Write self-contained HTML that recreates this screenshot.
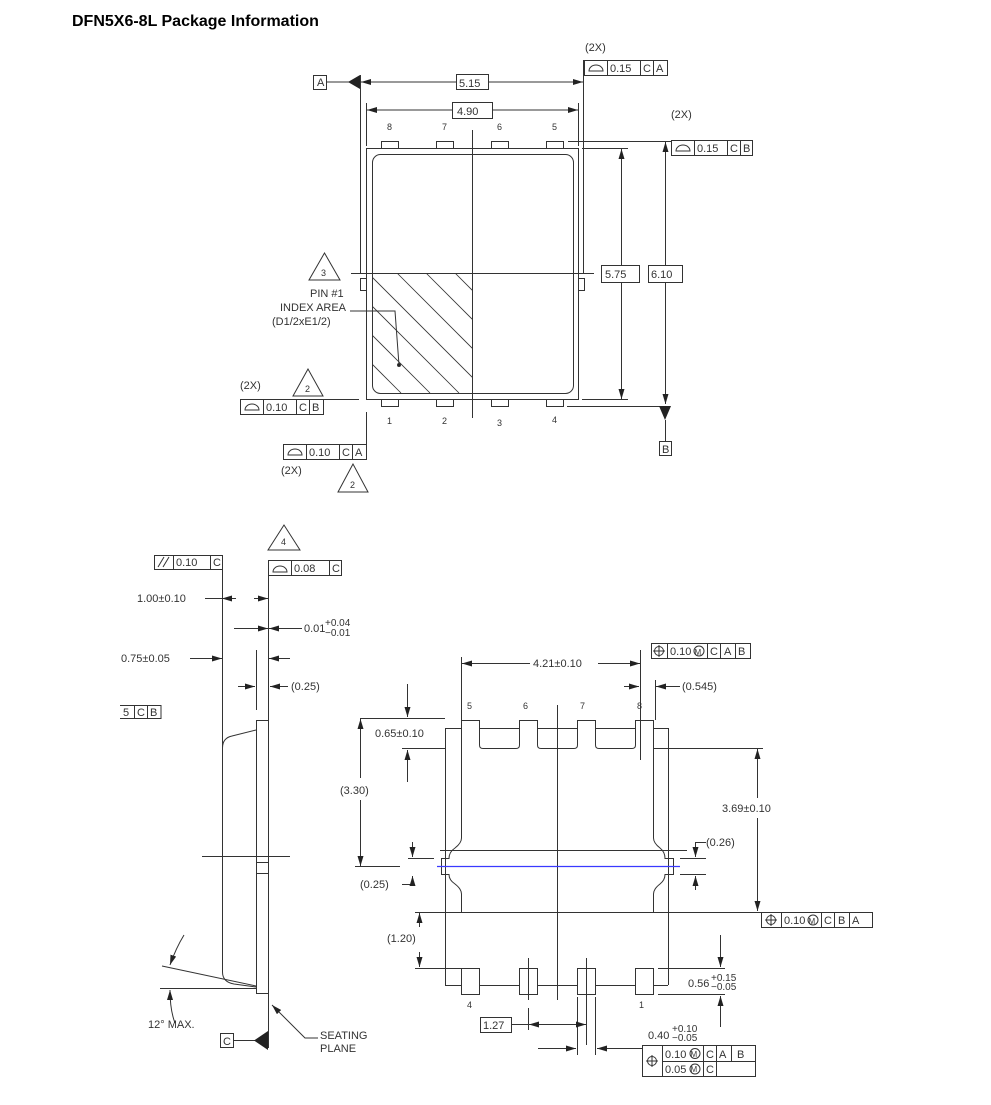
<!DOCTYPE html>
<html><head><meta charset="utf-8"><style>
html,body{margin:0;padding:0;background:#fff;}
svg{display:block;}
text{font-family:"Liberation Sans",sans-serif;fill:#333;}
</style></head><body>
<svg width="991" height="1105" viewBox="0 0 991 1105" xmlns="http://www.w3.org/2000/svg">
<defs>
<marker id="a" viewBox="0 0 10 6" refX="10" refY="3" markerWidth="10" markerHeight="6" markerUnits="userSpaceOnUse" orient="auto-start-reverse"><path d="M0,0 L10,3 L0,6 Z" fill="#222"/></marker>
<clipPath id="hc"><path d="M372,273 L472,273 L472,393 L380,393 Q372,393 372,385 Z"/></clipPath>
</defs>
<text x="72" y="26" font-size="16" font-weight="bold" style="fill:#000">DFN5X6-8L Package Information</text>

<g stroke="#333" stroke-width="1" fill="none">
<!-- TOP VIEW -->
<rect x="313.5" y="75.5" width="13" height="14"/>
<line x1="326" y1="82" x2="350" y2="82"/>
<polygon points="348,82 360,75 360,89" fill="#222" stroke="none"/>
<line x1="360.5" y1="75" x2="360.5" y2="273"/>
<line x1="583.5" y1="60" x2="583.5" y2="273"/>
<line x1="361" y1="82" x2="456" y2="82" marker-start="url(#a)"/>
<line x1="488" y1="82" x2="583" y2="82" marker-end="url(#a)"/>
<rect x="456.5" y="74.5" width="32" height="15"/>
<!-- FCF top -->
<rect x="584.5" y="60.5" width="83" height="15"/>
<line x1="607.5" y1="60" x2="607.5" y2="75"/><line x1="640.5" y1="60" x2="640.5" y2="75"/><line x1="653.5" y1="60" x2="653.5" y2="75"/>
<path d="M589,71 A7,6 0 0 1 603,71 Z"/>
<!-- 4.90 -->
<line x1="366.5" y1="103" x2="366.5" y2="146"/>
<line x1="578.5" y1="103" x2="578.5" y2="146"/>
<line x1="367" y1="110" x2="452" y2="110" marker-start="url(#a)"/>
<line x1="492" y1="110" x2="578" y2="110" marker-end="url(#a)"/>
<rect x="452.5" y="102.5" width="40" height="16"/>
<!-- body -->
<rect x="366.5" y="148.5" width="212" height="251"/>
<rect x="372.5" y="154.5" width="201" height="239" rx="8"/>
<rect x="381.5" y="141.5" width="17" height="7"/><rect x="436.5" y="141.5" width="17" height="7"/><rect x="491.5" y="141.5" width="17" height="7"/><rect x="546.5" y="141.5" width="17" height="7"/>
<rect x="381.5" y="399.5" width="17" height="7"/><rect x="436.5" y="399.5" width="17" height="7"/><rect x="491.5" y="399.5" width="17" height="7"/><rect x="546.5" y="399.5" width="17" height="7"/>
<rect x="360.5" y="278.5" width="6" height="12"/><rect x="578.5" y="278.5" width="6" height="12"/>
<line x1="472.5" y1="130" x2="472.5" y2="418"/>
<line x1="351" y1="273.5" x2="594" y2="273.5"/>
<g clip-path="url(#hc)" stroke-width="0.8">
<line x1="281" y1="273" x2="401" y2="393"/><line x1="310" y1="273" x2="430" y2="393"/><line x1="339" y1="273" x2="459" y2="393"/><line x1="368" y1="273" x2="488" y2="393"/><line x1="397" y1="273" x2="517" y2="393"/><line x1="426" y1="273" x2="546" y2="393"/><line x1="455" y1="273" x2="575" y2="393"/>
</g>
<polyline points="350,311 395,311 399,365"/>
<circle cx="399" cy="365" r="1.5" fill="#222"/>
<polygon points="324.5,253 309,280 340,280"/>
<!-- right dims -->
<line x1="568" y1="141.5" x2="672" y2="141.5"/>
<rect x="671.5" y="140.5" width="81" height="15"/>
<line x1="694.5" y1="140" x2="694.5" y2="155"/><line x1="727.5" y1="140" x2="727.5" y2="155"/><line x1="740.5" y1="140" x2="740.5" y2="155"/>
<path d="M676,151 A7,6 0 0 1 690,151 Z"/>
<line x1="582" y1="148.5" x2="628" y2="148.5"/>
<line x1="582" y1="399.5" x2="628" y2="399.5"/>
<line x1="621.5" y1="149" x2="621.5" y2="265" marker-start="url(#a)"/>
<line x1="621.5" y1="282" x2="621.5" y2="399" marker-end="url(#a)"/>
<rect x="601.5" y="265.5" width="38" height="17"/>
<rect x="648.5" y="265.5" width="34" height="17"/>
<line x1="665.5" y1="142" x2="665.5" y2="265" marker-start="url(#a)"/>
<line x1="665.5" y1="282" x2="665.5" y2="404" marker-end="url(#a)"/>
<line x1="567" y1="406.5" x2="665" y2="406.5"/>
<polygon points="659,406 671,406 665,420" fill="#222" stroke="none"/>
<line x1="665.5" y1="420" x2="665.5" y2="441"/>
<rect x="659.5" y="441.5" width="12" height="14"/>
<!-- left bottom FCFs -->
<polygon points="308,369 293,396 323,396"/>
<rect x="240.5" y="399.5" width="83" height="15"/>
<line x1="263.5" y1="399" x2="263.5" y2="414"/><line x1="296.5" y1="399" x2="296.5" y2="414"/><line x1="309.5" y1="399" x2="309.5" y2="414"/>
<path d="M245,410 A7,6 0 0 1 259,410 Z"/>
<line x1="323" y1="399.5" x2="359" y2="399.5"/>
<line x1="366.5" y1="412" x2="366.5" y2="445"/>
<rect x="283.5" y="444.5" width="83" height="15"/>
<line x1="306.5" y1="444" x2="306.5" y2="459"/><line x1="339.5" y1="444" x2="339.5" y2="459"/><line x1="352.5" y1="444" x2="352.5" y2="459"/>
<path d="M288,455 A7,6 0 0 1 302,455 Z"/>
<polygon points="353,464 338,492 368,492"/>

<!-- SIDE VIEW -->
<polygon points="284,525 268,550 300,550"/>
<rect x="154.5" y="555.5" width="68" height="14"/>
<line x1="173.5" y1="555" x2="173.5" y2="569"/><line x1="210.5" y1="555" x2="210.5" y2="569"/>
<line x1="158" y1="567" x2="164" y2="557"/><line x1="163" y1="567" x2="169" y2="557"/>
<rect x="268.5" y="560.5" width="73" height="15"/>
<line x1="291.5" y1="560" x2="291.5" y2="575"/><line x1="329.5" y1="560" x2="329.5" y2="575"/>
<path d="M273,572 A7,6 0 0 1 287,572 Z"/>
<path d="M222.5,555 L222.5,748 Q222.5,738 232,736 L256,730"/>
<path d="M222.5,748 L222.5,972 Q222.5,982 234,984 L256,987"/>
<line x1="268.5" y1="560" x2="268.5" y2="1048"/>
<rect x="256.5" y="720.5" width="12" height="273"/>
<rect x="256.5" y="862.5" width="12" height="11"/>
<line x1="202" y1="856.5" x2="290" y2="856.5"/>
<line x1="205" y1="598.5" x2="222" y2="598.5"/>
<line x1="222" y1="598.5" x2="236" y2="598.5" marker-start="url(#a)"/>
<line x1="254" y1="598.5" x2="268" y2="598.5" marker-end="url(#a)"/>
<line x1="234" y1="628.5" x2="268" y2="628.5" marker-end="url(#a)"/>
<line x1="302" y1="628.5" x2="269" y2="628.5" marker-end="url(#a)"/>
<line x1="190" y1="658.5" x2="222" y2="658.5" marker-end="url(#a)"/>
<line x1="256.5" y1="650" x2="256.5" y2="710"/>
<line x1="290" y1="658.5" x2="269" y2="658.5" marker-end="url(#a)"/>
<line x1="238" y1="686.5" x2="255" y2="686.5" marker-end="url(#a)"/>
<line x1="288" y1="686.5" x2="270" y2="686.5" marker-end="url(#a)"/>
<path d="M161,705.5 L120,705.5 M120,718.5 L161,718.5 L161,705 M134.5,705 L134.5,718 M147.5,705 L147.5,718"/>
<line x1="162" y1="966" x2="256" y2="986"/>
<line x1="160" y1="988.5" x2="256" y2="988.5"/>
<path d="M184,935 Q176,948 170,965" marker-end="url(#a)"/>
<path d="M175,1023 Q170,1010 170,990" marker-end="url(#a)"/>
<rect x="220.5" y="1033.5" width="13" height="14"/>
<line x1="233" y1="1040.5" x2="256" y2="1040.5"/>
<polygon points="268,1031 268,1050 254,1040.5" fill="#222" stroke="none"/>
<polyline points="318,1038 305,1038 272,1005" marker-end="url(#a)"/>

<!-- BOTTOM VIEW -->
<line x1="461.5" y1="657" x2="461.5" y2="720"/>
<line x1="640.5" y1="650" x2="640.5" y2="746"/>
<line x1="462" y1="663.5" x2="530" y2="663.5" marker-start="url(#a)"/>
<line x1="598" y1="663.5" x2="640" y2="663.5" marker-end="url(#a)"/>
<rect x="651.5" y="643.5" width="99" height="15"/>
<line x1="667.5" y1="643" x2="667.5" y2="658"/><line x1="707.5" y1="643" x2="707.5" y2="658"/><line x1="720.5" y1="643" x2="720.5" y2="658"/><line x1="735.5" y1="643" x2="735.5" y2="658"/>
<circle cx="659" cy="651" r="4.5"/><line x1="659" y1="645" x2="659" y2="657"/><line x1="653" y1="651" x2="665" y2="651"/>
<circle cx="699" cy="651" r="5"/>
<line x1="624" y1="686.5" x2="639" y2="686.5" marker-end="url(#a)"/>
<line x1="655.5" y1="680" x2="655.5" y2="720"/>
<line x1="680" y1="686.5" x2="656" y2="686.5" marker-end="url(#a)"/>
<path d="M445.5,985 L445.5,728.5 L461,728.5 M479,728.5 L519,728.5 M537,728.5 L577,728.5 M595,728.5 L635,728.5 M653,728.5 L668.5,728.5 L668.5,985 M445,985.5 L461,985.5 M479,985.5 L519,985.5 M537,985.5 L577,985.5 M595,985.5 L635,985.5 M653,985.5 L668,985.5"/>
<path d="M461.5,720.5 L479.5,720.5 L479.5,745 Q479.5,748.5 483,748.5 L516,748.5 Q519.5,748.5 519.5,745 L519.5,720.5 L537.5,720.5 L537.5,745 Q537.5,748.5 541,748.5 L574,748.5 Q577.5,748.5 577.5,745 L577.5,720.5 L595.5,720.5 L595.5,745 Q595.5,748.5 599,748.5 L632,748.5 Q635.5,748.5 635.5,745 L635.5,720.5 L653.5,720.5 L653.5,838 Q653.5,843 660,848 Q665,852 665,858.5 L673.5,858.5 L673.5,874.5 L665,874.5 Q665,880 660,884 Q653.5,889 653.5,894 L653.5,912.5 L461.5,912.5 L461.5,894 Q461.5,889 455,884 Q449,880 449,874.5 L441.5,874.5 L441.5,858.5 L449,858.5 Q449,852 455,848 Q461.5,843 461.5,838 Z"/>
<rect x="461.5" y="968.5" width="18" height="26"/><rect x="519.5" y="968.5" width="18" height="26"/><rect x="577.5" y="968.5" width="18" height="26"/><rect x="635.5" y="968.5" width="18" height="26"/>
<line x1="640.5" y1="746" x2="640.5" y2="760"/>
<line x1="440" y1="850.5" x2="687" y2="850.5"/>
<line x1="557.5" y1="705" x2="557.5" y2="1000"/>
<line x1="360" y1="718.5" x2="445" y2="718.5"/>
<line x1="402" y1="748.5" x2="445" y2="748.5"/>
<line x1="407.5" y1="684" x2="407.5" y2="717" marker-end="url(#a)"/>
<line x1="407.5" y1="782" x2="407.5" y2="750" marker-end="url(#a)"/>
<line x1="360.5" y1="719" x2="360.5" y2="778" marker-start="url(#a)"/>
<line x1="360.5" y1="800" x2="360.5" y2="866" marker-end="url(#a)"/>
<line x1="355" y1="866.5" x2="400" y2="866.5"/>
<line x1="653" y1="748.5" x2="763" y2="748.5"/>
<line x1="653" y1="912.5" x2="762" y2="912.5"/>
<line x1="757.5" y1="749" x2="757.5" y2="798" marker-start="url(#a)"/>
<line x1="757.5" y1="818" x2="757.5" y2="911" marker-end="url(#a)"/>
<rect x="761.5" y="912.5" width="111" height="15"/>
<line x1="781.5" y1="912" x2="781.5" y2="927"/><line x1="821.5" y1="912" x2="821.5" y2="927"/><line x1="834.5" y1="912" x2="834.5" y2="927"/><line x1="849.5" y1="912" x2="849.5" y2="927"/>
<circle cx="771" cy="920" r="4.5"/><line x1="771" y1="914" x2="771" y2="926"/><line x1="765" y1="920" x2="777" y2="920"/>
<circle cx="813" cy="920" r="5"/>
<line x1="680" y1="858.5" x2="706" y2="858.5"/>
<line x1="680" y1="874.5" x2="706" y2="874.5"/>
<polyline points="706,842.5 695.5,842.5 695.5,857" marker-end="url(#a)"/>
<line x1="695.5" y1="890" x2="695.5" y2="876" marker-end="url(#a)"/>
<line x1="412.5" y1="842" x2="412.5" y2="857" marker-end="url(#a)"/>
<polyline points="402,884.5 412.5,884.5 412.5,876" marker-end="url(#a)"/>
<line x1="408" y1="858.5" x2="434" y2="858.5"/>
<line x1="415" y1="912.5" x2="461" y2="912.5"/>
<line x1="415" y1="968.5" x2="461" y2="968.5"/>
<line x1="419.5" y1="927" x2="419.5" y2="913" marker-end="url(#a)"/>
<line x1="419.5" y1="952" x2="419.5" y2="967" marker-end="url(#a)"/>
<line x1="528.5" y1="958" x2="528.5" y2="1000"/>
<line x1="586.5" y1="958" x2="586.5" y2="1045"/>
<line x1="528.5" y1="1008" x2="528.5" y2="1030"/>
<line x1="577.5" y1="997" x2="577.5" y2="1055"/>
<line x1="595.5" y1="997" x2="595.5" y2="1055"/>
<line x1="658" y1="968.5" x2="725" y2="968.5"/>
<line x1="658" y1="994.5" x2="725" y2="994.5"/>
<line x1="720.5" y1="935" x2="720.5" y2="967" marker-end="url(#a)"/>
<line x1="720.5" y1="1027" x2="720.5" y2="996" marker-end="url(#a)"/>
<rect x="480.5" y="1017.5" width="31" height="15"/>
<line x1="512" y1="1024.5" x2="528" y2="1024.5"/>
<line x1="529" y1="1024.5" x2="586" y2="1024.5" marker-start="url(#a)" marker-end="url(#a)"/>
<line x1="538" y1="1048.5" x2="576" y2="1048.5" marker-end="url(#a)"/>
<line x1="642" y1="1048.5" x2="597" y2="1048.5" marker-end="url(#a)"/>
<rect x="642.5" y="1045.5" width="113" height="31"/>
<line x1="662.5" y1="1045" x2="662.5" y2="1076"/>
<line x1="662" y1="1061.5" x2="755" y2="1061.5"/>
<line x1="703.5" y1="1045" x2="703.5" y2="1076"/><line x1="716.5" y1="1045" x2="716.5" y2="1076"/>
<line x1="731.5" y1="1045" x2="731.5" y2="1061"/>
<circle cx="652" cy="1061" r="4.5"/><line x1="652" y1="1055" x2="652" y2="1067"/><line x1="646" y1="1061" x2="658" y2="1061"/>
<circle cx="695" cy="1053.5" r="5"/><circle cx="695" cy="1069" r="5"/>
</g>
<line x1="437" y1="866.5" x2="680" y2="866.5" stroke="#3a3aff" stroke-width="1.2"/>

<g font-size="11">
<text x="317" y="86">A</text>
<text x="459" y="87">5.15</text>
<text x="585" y="51">(2X)</text>
<text x="610" y="72">0.15</text><text x="643" y="72">C</text><text x="656" y="72">A</text>
<text x="457" y="115">4.90</text>
<g font-size="9"><text x="387" y="130">8</text><text x="442" y="130">7</text><text x="497" y="130">6</text><text x="552" y="130">5</text>
<text x="387" y="424">1</text><text x="442" y="424">2</text><text x="497" y="426">3</text><text x="552" y="423">4</text>
<text x="321" y="276">3</text><text x="305" y="392">2</text><text x="350" y="488">2</text><text x="281" y="545">4</text></g>
<text x="671" y="118">(2X)</text>
<text x="697" y="152">0.15</text><text x="730" y="152">C</text><text x="743" y="152">B</text>
<text x="605" y="278">5.75</text><text x="651" y="278">6.10</text>
<text x="662" y="453">B</text>
<text x="310" y="297">PIN  #1</text>
<text x="280" y="311">INDEX  AREA</text>
<text x="272" y="325">(D1/2xE1/2)</text>
<text x="240" y="389">(2X)</text>
<text x="266" y="411">0.10</text><text x="299" y="411">C</text><text x="312" y="411">B</text>
<text x="309" y="456">0.10</text><text x="342" y="456">C</text><text x="355" y="456">A</text>
<text x="281" y="474">(2X)</text>
<text x="176" y="566">0.10</text><text x="213" y="566">C</text>
<text x="294" y="572">0.08</text><text x="332" y="572">C</text>
<text x="137" y="602">1.00±0.10</text>
<text x="304" y="632">0.01</text><text x="325" y="626" font-size="10">+0.04</text><text x="325" y="636" font-size="10">−0.01</text>
<text x="121" y="662">0.75±0.05</text>
<text x="291" y="690">(0.25)</text>
<text x="123" y="716">5</text><text x="137" y="716">C</text><text x="150" y="716">B</text>
<text x="148" y="1028">12°  MAX.</text>
<text x="223" y="1045">C</text>
<text x="320" y="1039">SEATING</text>
<text x="320" y="1052">PLANE</text>
<text x="533" y="667">4.21±0.10</text>
<text x="670" y="655">0.10</text><text x="694.5" y="655" font-size="8">M</text><text x="710" y="655">C</text><text x="724" y="655">A</text><text x="738" y="655">B</text>
<text x="682" y="690">(0.545)</text>
<g font-size="9"><text x="467" y="709">5</text><text x="523" y="709">6</text><text x="580" y="709">7</text><text x="637" y="709">8</text>
<text x="467" y="1008">4</text><text x="639" y="1008">1</text></g>
<text x="375" y="737">0.65±0.10</text>
<text x="340" y="794">(3.30)</text>
<text x="722" y="812">3.69±0.10</text>
<text x="706" y="846">(0.26)</text>
<text x="360" y="888">(0.25)</text>
<text x="387" y="942">(1.20)</text>
<text x="784" y="924">0.10</text><text x="808.5" y="924" font-size="8">M</text><text x="824" y="924">C</text><text x="838" y="924">B</text><text x="852" y="924">A</text>
<text x="688" y="987">0.56</text><text x="711" y="981" font-size="10">+0.15</text><text x="711" y="990" font-size="10">−0.05</text>
<text x="483" y="1029">1.27</text>
<text x="648" y="1039">0.40</text><text x="672" y="1032" font-size="10">+0.10</text><text x="672" y="1041" font-size="10">−0.05</text>
<text x="665" y="1058">0.10</text><text x="690.5" y="1057" font-size="8">M</text><text x="706" y="1058">C</text><text x="719" y="1058">A</text><text x="737" y="1058">B</text>
<text x="665" y="1073">0.05</text><text x="690.5" y="1072" font-size="8">M</text><text x="706" y="1073">C</text>
</g>
</svg>
</body></html>
